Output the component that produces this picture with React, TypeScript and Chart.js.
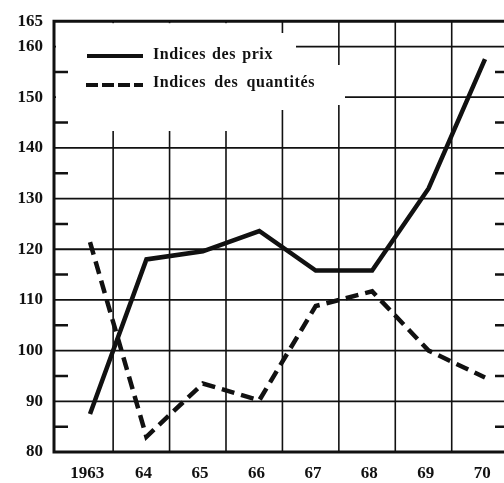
import React, { useEffect, useRef } from "react";
import { Chart, registerables } from "chart.js";

Chart.register(...registerables);

const years = ["1963", "64", "65", "66", "67", "68", "69", "70"];
const indicesPrix = [87.5, 118, 119.6, 123.6, 115.8, 115.8, 132, 157.5];
const indicesQuantites = [121.4, 83, 93.5, 90.2, 108.8, 111.7, 100, 94.7];
const yTickValues = [80, 90, 100, 110, 120, 130, 140, 150, 160, 165];
const minorTickValues = [85, 95, 105, 115, 125, 135, 145, 155];
const labelPrix = "Indices des prix";
const labelQuantites = "Indices des quantités";

const INK = "#111";
const FONT = "'Liberation Serif', 'DejaVu Serif', serif";

const paperPlugin = {
  id: "paper",
  beforeDatasetsDraw(chart: any) {
    const { ctx, chartArea: ca, scales } = chart;
    const x = scales.x;
    const y = scales.y;
    ctx.save();
    ctx.strokeStyle = INK;
    ctx.lineCap = "butt";
    ctx.lineWidth = 1.8;
    for (let v = 90; v <= 160; v += 10) {
      const py = y.getPixelForValue(v);
      ctx.beginPath();
      ctx.moveTo(ca.left, py);
      ctx.lineTo(ca.right, py);
      ctx.stroke();
    }
    ctx.lineWidth = 1.6;
    for (let i = 0; i < years.length - 1; i++) {
      const px = x.getPixelForValue(i + 0.41);
      ctx.beginPath();
      ctx.moveTo(px, ca.top);
      ctx.lineTo(px, ca.bottom);
      ctx.stroke();
    }
    ctx.fillStyle = "#fff";
    ctx.fillRect(ca.left + 2, ca.top + 2, 281 - ca.left - 2, 131 - ca.top - 2);
    ctx.fillRect(281, 33, 15, 77);
    ctx.fillRect(296, 65, 49, 40);
    ctx.lineWidth = 2.5;
    for (const v of minorTickValues) {
      const py = y.getPixelForValue(v);
      ctx.beginPath();
      ctx.moveTo(ca.left, py);
      ctx.lineTo(ca.left + 14, py);
      ctx.moveTo(ca.right - 11, py);
      ctx.lineTo(ca.right, py);
      ctx.stroke();
    }
    ctx.lineWidth = 3;
    ctx.beginPath();
    ctx.moveTo(ca.left, ca.top);
    ctx.lineTo(ca.right, ca.top);
    ctx.moveTo(ca.left, ca.top - 1.5);
    ctx.lineTo(ca.left, ca.bottom + 1.5);
    ctx.moveTo(ca.left - 1.5, ca.bottom);
    ctx.lineTo(ca.right, ca.bottom);
    ctx.stroke();
    ctx.restore();
  },
  afterDraw(chart: any) {
    const { ctx } = chart;
    const ds = chart.data.datasets;
    ctx.save();
    ctx.strokeStyle = INK;
    ctx.fillStyle = INK;
    ctx.lineWidth = 4;
    ctx.setLineDash([]);
    ctx.beginPath();
    ctx.moveTo(87, 56);
    ctx.lineTo(143, 56);
    ctx.stroke();
    ctx.setLineDash([12, 4]);
    ctx.beginPath();
    ctx.moveTo(86, 85);
    ctx.lineTo(143, 85);
    ctx.stroke();
    ctx.setLineDash([]);
    ctx.font = "bold 16px " + FONT;
    ctx.textBaseline = "middle";
    const drawFit = (text: string, x0: number, yy: number, target: number) => {
      (ctx as any).letterSpacing = "0.6px";
      (ctx as any).wordSpacing = "0px";
      const w = ctx.measureText(text).width;
      const gaps = text.split(" ").length - 1;
      const sp = Math.max(0, (target - w) / Math.max(1, gaps));
      (ctx as any).wordSpacing = sp.toFixed(2) + "px";
      ctx.fillText(text, x0, yy);
      (ctx as any).wordSpacing = "0px";
      (ctx as any).letterSpacing = "0px";
    };
    drawFit(ds[0].label, 153, 55, 120);
    drawFit(ds[1].label, 153, 83, 162);
    ctx.restore();
  },
};

export default function App() {
  const ref = useRef<HTMLCanvasElement | null>(null);
  useEffect(() => {
    if (!ref.current) return;
    const chart = new Chart(ref.current, {
      type: "line",
      data: {
        datasets: [
          {
            label: labelPrix,
            data: indicesPrix.map((v, i) => ({ x: i, y: v })),
            borderColor: INK,
            borderWidth: 4.5,
            pointRadius: 0,
            tension: 0,
            borderJoinStyle: "miter",
          },
          {
            label: labelQuantites,
            data: indicesQuantites.map((v, i) => ({ x: i, y: v })),
            borderColor: INK,
            borderWidth: 4.5,
            borderDash: [13, 7],
            pointRadius: 0,
            tension: 0,
          },
        ],
      },
      options: {
        responsive: false,
        animation: false,
        layout: { padding: { top: 15, right: 4, left: 0, bottom: 0 } },
        plugins: { legend: { display: false }, tooltip: { enabled: false } },
        scales: {
          x: {
            type: "linear",
            min: -0.638,
            max: 7.372,
            grid: { display: false, drawTicks: false },
            border: { display: false },
            afterBuildTicks: (s: any) => {
              s.ticks = years.map((_, i) => ({ value: i - 0.05 }));
            },
            afterFit: (s: any) => {
              s.height = 31;
            },
            ticks: {
              padding: 11,
              maxRotation: 0,
              autoSkip: false,
              color: INK,
              font: { family: FONT, size: 17, weight: "bold" },
              callback: (v: any) => years[Math.round(Number(v))] ?? "",
            },
          },
          y: {
            type: "linear",
            min: 80,
            max: 165,
            grid: { display: false, drawTicks: false },
            border: { display: false },
            afterBuildTicks: (s: any) => {
              s.ticks = yTickValues.map((v) => ({ value: v }));
            },
            afterFit: (s: any) => {
              s.width = 54;
            },
            ticks: {
              padding: 11,
              autoSkip: false,
              color: INK,
              font: { family: FONT, size: 17, weight: "bold" },
              callback: (v: any) => String(v),
            },
          },
        },
      },
      plugins: [paperPlugin],
    } as any);
    return () => chart.destroy();
  }, []);
  return (
    <div
      style={{
        position: "fixed",
        left: 0,
        top: 0,
        width: 504,
        height: 483,
        overflow: "hidden",
        background: "#fff",
      }}
    >
      <canvas ref={ref} width={510} height={483} style={{ display: "block" }} />
    </div>
  );
}
